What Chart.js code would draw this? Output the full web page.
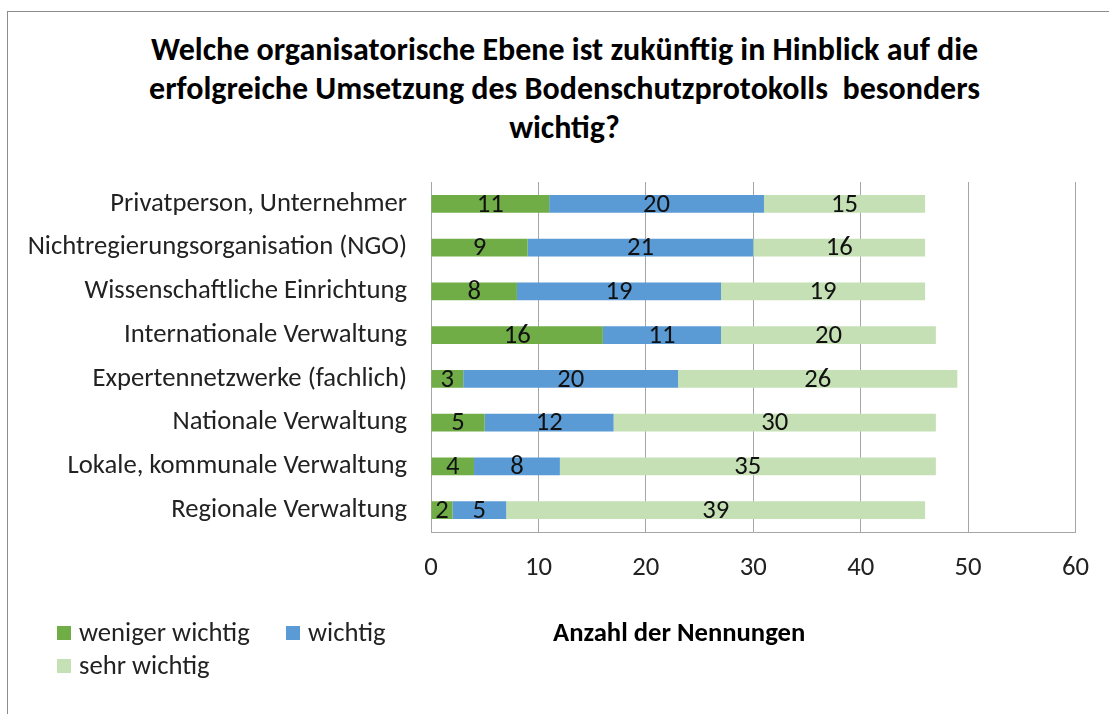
<!DOCTYPE html>
<html lang="de">
<head>
<meta charset="utf-8">
<title>Bodenschutzprotokoll – organisatorische Ebene</title>
<script src="https://cdn.jsdelivr.net/npm/chart.js@4.4.1/dist/chart.umd.min.js"></script>
<style>
  html, body { margin: 0; padding: 0; background: #fff; }
  body { width: 1109px; height: 714px; position: relative; overflow: hidden;
         font-family: Carlito, Calibri, "Liberation Sans Narrow", "Open Sans", sans-serif; }
  #frame { position: absolute; left: 7px; top: 11px; right: -2px; bottom: -2px;
           border-top: 1px solid #8c8c8c; border-left: 1px solid #8c8c8c; }
  #wrap { position: absolute; left: 0; top: 0; width: 1109px; height: 714px; }
  #title { position: absolute; left: 50px; top: 30px; width: 1029px; text-align: center; white-space: pre;
           font-size: 32px; line-height: 39.2px; font-weight: bold; color: #000; }
  .legend-item { position: absolute; font-size: 26.67px; color: #222; line-height: 32px; white-space: nowrap; }
  .legend-item span.box { display: inline-block; width: 14px; height: 14px; vertical-align: 1px; margin-right: 8px; }
  #xtitle { position: absolute; left: 553px; top: 616px; font-size: 26.67px; line-height: 32px; font-weight: bold; color: #000; white-space: nowrap; }
</style>
</head>
<body>
<div id="frame"></div>
<div id="title"></div>
<div id="wrap"><canvas id="chart" width="1109" height="714"></canvas></div>
<div id="legend"></div>
<div id="xtitle">Anzahl der Nennungen</div>

<script>
// --- data ---
const titleLines = [
  'Welche organisatorische Ebene ist zukünftig in Hinblick auf die',
  'erfolgreiche Umsetzung des Bodenschutzprotokolls  besonders',
  'wichtig?'
];
const categories = [
  'Privatperson, Unternehmer',
  'Nichtregierungsorganisation (NGO)',
  'Wissenschaftliche Einrichtung',
  'Internationale Verwaltung',
  'Expertennetzwerke (fachlich)',
  'Nationale Verwaltung',
  'Lokale, kommunale Verwaltung',
  'Regionale Verwaltung'
];
const wenigerWichtig = [11, 9, 8, 16, 3, 5, 4, 2];
const wichtig        = [20, 21, 19, 11, 20, 12, 8, 5];
const sehrWichtig    = [15, 16, 19, 20, 26, 30, 35, 39];
const seriesNames  = ['weniger wichtig', 'wichtig', 'sehr wichtig'];
const seriesColors = ['#70ad47', '#5b9bd5', '#c5e0b4'];
const xTicks = [0, 10, 20, 30, 40, 50, 60];

const FONT = 'Carlito, Calibri, "Liberation Sans Narrow", "Open Sans", sans-serif';
const FS = 26.67;

// title sits off-centre, so it is plain text above the canvas
document.getElementById('title').textContent = titleLines.join('\n');

// value labels in the middle of each segment
const segmentLabels = {
  id: 'segmentLabels',
  afterDatasetsDraw(chart) {
    const ctx = chart.ctx;
    ctx.save();
    ctx.font = FS + 'px ' + FONT;
    ctx.fillStyle = '#111';
    ctx.textAlign = 'center';
    ctx.textBaseline = 'middle';
    chart.data.datasets.forEach((ds, i) => {
      chart.getDatasetMeta(i).data.forEach((bar, j) => {
        const v = ds.data[j];
        if (!v) return;
        const p = bar.getProps(['x', 'y', 'base'], true);
        ctx.fillText(String(v), (p.x + p.base) / 2, p.y + 1);
      });
    });
    ctx.restore();
  }
};

const seriesData = [wenigerWichtig, wichtig, sehrWichtig];

new Chart(document.getElementById('chart'), {
  type: 'bar',
  data: {
    labels: categories,
    datasets: seriesNames.map((name, i) => ({
      label: name,
      data: seriesData[i],
      backgroundColor: seriesColors[i],
      borderWidth: 0,
      barPercentage: 0.41,
      categoryPercentage: 1
    }))
  },
  options: {
    indexAxis: 'y',
    responsive: false,
    animation: false,
    layout: { padding: { left: 0, right: 30, top: 182, bottom: 0 } },
    plugins: {
      legend: { display: false },
      tooltip: { enabled: false },
      title: { display: false }
    },
    scales: {
      x: {
        stacked: true,
        min: 0,
        max: 60,
        afterBuildTicks: s => { s.ticks = xTicks.map(v => ({ value: v })); },
        afterFit: s => { s.height = 714 - 532; },
        grid: { color: '#a6a6a6', drawTicks: false },
        border: { color: '#a6a6a6' },
        ticks: { color: '#222', font: { family: FONT, size: FS }, padding: 20, maxRotation: 0 }
      },
      y: {
        stacked: true,
        afterFit: s => { s.width = 431; },
        grid: { display: false, drawTicks: false },
        border: { color: '#a6a6a6' },
        ticks: { color: '#222', font: { family: FONT, size: FS }, padding: 24, autoSkip: false }
      }
    }
  },
  plugins: [segmentLabels]
});

// legend: two items on the first row, one on the second
const legendPos = [[57, 616], [286, 616], [57, 649]];
document.getElementById('legend').innerHTML = seriesNames.map((n, i) =>
  `<div class="legend-item" style="left:${legendPos[i][0]}px;top:${legendPos[i][1]}px;">` +
  `<span class="box" style="background:${seriesColors[i]}"></span>${n}</div>`).join('');
</script>
</body>
</html>
